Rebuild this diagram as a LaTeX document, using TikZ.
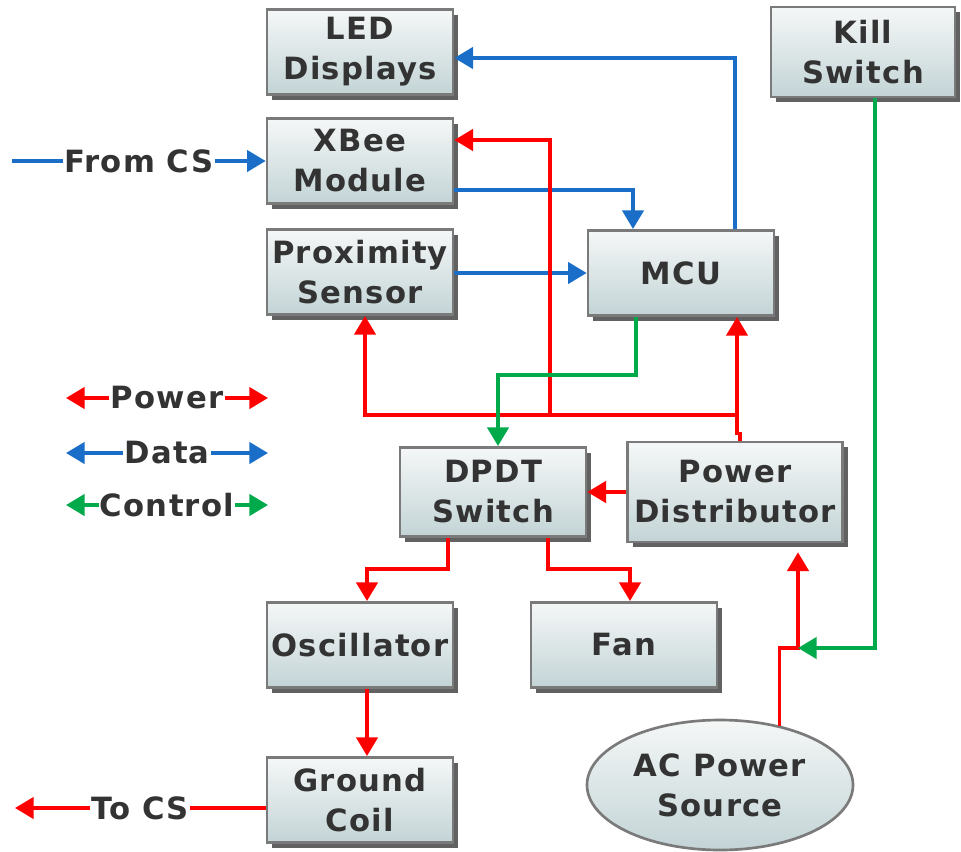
\documentclass[tikz,border=0pt]{standalone}
\usepackage{fontspec}
\setmainfont[LetterSpace=4]{DejaVu Sans}
\usetikzlibrary{arrows.meta,shapes.geometric,shadows,calc}

\definecolor{txtgray}{HTML}{333333}
\definecolor{pwrred}{HTML}{FF0000}
\definecolor{datblue}{HTML}{1A6EC8}
\definecolor{ctlgreen}{HTML}{00AA4B}
\definecolor{boxtop}{HTML}{F5F7F7}
\definecolor{boxbot}{HTML}{C3D4D6}
\definecolor{boxedge}{HTML}{7A7A7A}

\tikzset{
  box/.style={rectangle, draw=boxedge, line width=2pt, top color=boxtop, bottom color=boxbot,
    minimum width=139.5pt, minimum height=64pt, inner sep=0pt, align=center,
    font=\fontsize{23}{30}\selectfont\bfseries, text=txtgray,
    drop shadow={shadow xshift=4pt, shadow yshift=-4pt, fill=black!62, opacity=1}},
  lbl/.style={fill=white, inner sep=1pt, font=\fontsize{23}{30}\selectfont\bfseries, text=txtgray},
  tip/.style={-{Triangle[length=14pt, width=16pt]}},
  powerln/.style={tip, draw=pwrred, line width=2.6pt},
  dataln/.style={tip, draw=datblue, line width=2.6pt},
  ctrlln/.style={tip, draw=ctlgreen, line width=2.6pt}
}

\begin{document}
\begin{tikzpicture}[x=0.75pt, y=-0.75pt]
\useasboundingbox (0,0) rectangle (961,851);

% Left column
\node[box] (led) at (360,52) {LED\\Displays};
\node[box] (xbee) at (360,161) {XBee\\Module};
\node[box] (prox) at (360,272) {Proximity\\Sensor};

% Controller and kill switch
\node[box] (mcu) at (681,273) {MCU};
\node[box, minimum width=138pt, minimum height=67.5pt] (kill) at (863,52) {Kill\\Switch};

% Switching stage
\node[box, minimum height=67pt] (dpdt) at (493,492) {DPDT\\Switch};
\node[box, minimum width=161pt, minimum height=75pt] (pd) at (735,492) {Power\\Distributor};

% Outputs
\node[box] (osc) at (360,645) {Oscillator};
\node[box] (fan) at (624,645) {Fan};
\node[box] (coil) at (360,800) {Ground\\Coil};

% AC source
\node[ellipse, draw=boxedge, line width=2pt, top color=boxtop, bottom color=boxbot,
  minimum width=199.5pt, minimum height=97.5pt, inner sep=0pt, align=center,
  font=\fontsize{23}{30}\selectfont\bfseries, text=txtgray] (ac) at (720,785) {AC Power\\Source};

% Free ends and junctions
\coordinate (csin) at (12,161);
\coordinate (csout) at (15,808);
\coordinate (pjoin) at (737,415);
\coordinate (ptap) at (550,415);
\coordinate (kjoin) at (798,648);

% Data links
\draw[dataln] (csin) -- node[lbl] (fromcs) {From CS} (xbee.west);
\draw[dataln] ($(mcu.north)+(54,0)$) |- ($(led.east)+(0,6)$);
\draw[dataln] ($(xbee.east)+(0,29)$) -| ($(mcu.north)+(-48,0)$);
\draw[dataln] (mcu.west -| prox.east) -- (mcu.west);

% Power links
\draw[powerln] ($(pd.north)+(5,0)$) -- ++(0,-7) -| ($(mcu.south)+(56,0)$);
\draw[powerln] (pjoin) -| ($(prox.south)+(5,0)$);
\draw[powerln] (ptap) |- ($(xbee.east)+(0,-21)$);
\draw[powerln] (pd.west) -- (pd.west -| dpdt.east);
\draw[powerln] ($(dpdt.south)+(-45,0)$) -- ++(0,31) -| ($(osc.north)+(7,0)$);
\draw[powerln] ($(dpdt.south)+(55,0)$) -- ++(0,31) -| ($(fan.north)+(6,0)$);
\draw[powerln] ($(osc.south)+(7,0)$) -- ($(coil.north)+(7,0)$);
\draw[powerln] ($(coil.west)+(0,8)$) -- node[lbl] (tocs) {To CS} (csout);
\draw[powerln] (ac.45) |- (kjoin) -- ($(pd.south)+(63,9)$);

% Control links
\draw[ctrlln] ($(mcu.south)+(-45,0)$) -- ++(0,58) -| ($(dpdt.north)+(5,0)$);
\draw[ctrlln] ($(kill.south)+(12,0)$) |- (kjoin);

% Legend
\coordinate (pwl) at (66,398);
\coordinate (pwr) at (268,398);
\coordinate (dtl) at (66,453);
\coordinate (dtr) at (268,453);
\coordinate (ctl) at (66,505);
\coordinate (ctr) at (268,505);
\draw[powerln, {Triangle[length=14pt, width=16pt]}-{Triangle[length=14pt, width=16pt]}] (pwl) -- node[lbl] (lgpower) {Power} (pwr);
\draw[dataln, {Triangle[length=14pt, width=16pt]}-{Triangle[length=14pt, width=16pt]}] (dtl) -- node[lbl] (lgdata) {Data} (dtr);
\draw[ctrlln, {Triangle[length=14pt, width=16pt]}-{Triangle[length=14pt, width=16pt]}] (ctl) -- node[lbl] (lgctrl) {Control} (ctr);
\end{tikzpicture}
\end{document}
